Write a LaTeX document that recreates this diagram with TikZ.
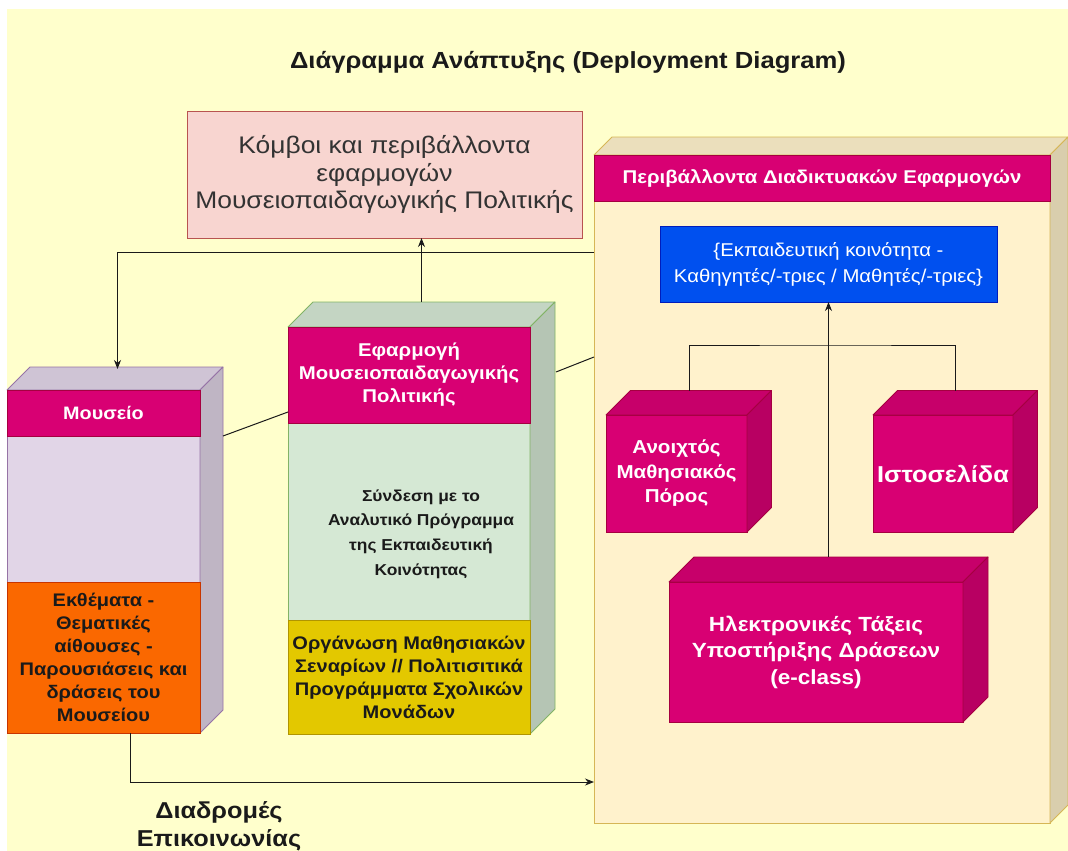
\documentclass[tikz,border=0pt]{standalone}
\usepackage{fontspec}
\setmainfont{Liberation Sans}[FakeStretch=1.1]
\usetikzlibrary{calc,arrows.meta}

\definecolor{bg}{HTML}{FFFFCC}
\definecolor{mag}{HTML}{D80073}
\definecolor{magD}{HTML}{A50040}
\definecolor{lila}{HTML}{E1D5E7}
\definecolor{lilaD}{HTML}{9673A6}
\definecolor{orng}{HTML}{FA6800}
\definecolor{orngD}{HTML}{C73500}
\definecolor{mint}{HTML}{D5E8D4}
\definecolor{mintD}{HTML}{82B366}
\definecolor{gold}{HTML}{E3C800}
\definecolor{goldD}{HTML}{B09500}
\definecolor{rose}{HTML}{F8D5D0}
\definecolor{roseD}{HTML}{B85450}
\definecolor{cream}{HTML}{FFF2CC}
\definecolor{creamD}{HTML}{D6B656}
\definecolor{blu}{HTML}{0050EF}
\definecolor{bluD}{HTML}{001DBC}
\definecolor{ink}{HTML}{1A1A1A}

% top and right faces of a 3D deployment node, drawn from its front face
\newcommand\boxsides[4]{%
  \filldraw[fill=#3!92!black, draw=#4, line width=0.8pt, line join=round]
    (#1.north west) -- ++(#2,-#2) -- ([shift={(#2,-#2)}]#1.north east) -- (#1.north east) -- cycle;
  \filldraw[fill=#3!85!black, draw=#4, line width=0.8pt, line join=round]
    (#1.north east) -- ++(#2,-#2) -- ([shift={(#2,-#2)}]#1.south east) -- (#1.south east) -- cycle;
}

\begin{document}
\begin{tikzpicture}[x=1pt,y=-1pt,
  face/.style={draw, rectangle, anchor=north west, inner sep=0pt, outer sep=0pt, line width=0.8pt, align=center},
  hdr/.style={font=\bfseries\fontsize{18.5}{23}\selectfont, text=white},
  cubetxt/.style={font=\bfseries\fontsize{18.7}{24.5}\selectfont, text=white},
  darktxt/.style={font=\bfseries\fontsize{18.2}{23}\selectfont, text=ink},
  link/.style={draw=ink, line width=1pt},
  arr/.style={link, -{Stealth[length=9pt,width=7pt]}}]

\useasboundingbox (0,0) rectangle (1068,851);
\fill[white] (0,0) rectangle (1068,851);
\fill[bg] (7,9) rectangle (1068,851);

% title
\node[font=\bfseries\fontsize{23.3}{26}\selectfont, text=ink] (title) at (568,62) {Διάγραμμα Ανάπτυξης (Deployment Diagram)};

% legend box
\node[face, fill=rose, draw=roseD, minimum width=395pt, minimum height=127pt,
      font=\fontsize{24}{27.5}\selectfont, text={rgb,255:red,51;green,51;blue,51}] (legend) at (187,111)
  {Κόμβοι και περιβάλλοντα\\εφαρμογών\\Μουσειοπαιδαγωγικής Πολιτικής};

% web applications environment
\node[face, fill=cream, draw=creamD, minimum width=456pt, minimum height=668pt] (web) at (594,155) {};
\boxsides{web}{18}{cream}{creamD}
\node[face, fill=mag, draw=magD, minimum width=456pt, minimum height=46pt, hdr] (webhdr) at (594,155)
  {Περιβάλλοντα Διαδικτυακών Εφαρμογών};
\node[face, fill=blu, draw=bluD, minimum width=337pt, minimum height=76pt, text=white,
      font=\fontsize{18.5}{26}\selectfont] (blu) at (660,226)
  {\{Εκπαιδευτική κοινότητα -\\Καθηγητές/-τριες / Μαθητές/-τριες\}};

\node[face, fill=mag, draw=magD, minimum width=141pt, minimum height=117pt, cubetxt] (oer) at (606,415)
  {Ανοιχτός\\Μαθησιακός\\Πόρος};
\boxsides{oer}{24.5}{mag}{magD}
\node[face, fill=mag, draw=magD, minimum width=140pt, minimum height=117pt,
      font=\bfseries\fontsize{23}{26}\selectfont, text=white] (ist) at (873,415)
  {Ιστοσελίδα};
\boxsides{ist}{24.5}{mag}{magD}
\node[face, fill=mag, draw=magD, minimum width=294pt, minimum height=140pt,
      font=\bfseries\fontsize{20.5}{26.5}\selectfont, text=white] (ecl) at (669,582)
  {Ηλεκτρονικές Τάξεις\\Υποστήριξης Δράσεων\\(e-class)};
\boxsides{ecl}{25}{mag}{magD}

% museum
\node[face, fill=lila, draw=lilaD, minimum width=193pt, minimum height=343pt] (mus) at (7,390) {};
\boxsides{mus}{23}{lila}{lilaD}
\node[face, fill=mag, draw=magD, minimum width=193pt, minimum height=46pt,
      font=\bfseries\fontsize{18}{23}\selectfont, text=white] (mushdr) at (7,390) {Μουσείο};
\node[face, fill=orng, draw=orngD, minimum width=193pt, minimum height=151pt, darktxt] (musex) at (7,582)
  {Εκθέματα -\\Θεματικές\\αίθουσες -\\Παρουσιάσεις και\\δράσεις του\\Μουσείου};

% museum-education application
\node[face, fill=mint, draw=mintD, minimum width=242pt, minimum height=407pt] (mid) at (288,327) {};
\boxsides{mid}{25}{mint}{mintD}
\node[face, fill=mag, draw=magD, minimum width=242pt, minimum height=96pt, hdr] (midhdr) at (288,327)
  {Εφαρμογή\\Μουσειοπαιδαγωγικής\\Πολιτικής};
\node[align=center, font=\bfseries\fontsize{15.8}{24.7}\selectfont, text=ink] (midtxt) at (421,534)
  {Σύνδεση με το\\Αναλυτικό Πρόγραμμα\\της Εκπαιδευτική\\Κοινότητας};
\node[face, fill=gold, draw=goldD, minimum width=242pt, minimum height=114pt, darktxt] (midorg) at (288,620)
  {Οργάνωση Μαθησιακών\\Σεναρίων // Πολιτισιτικά\\Προγράμματα Σχολικών\\Μονάδων};

% connector end points on the node faces
\coordinate (midtop) at ($(mid.north)+(12.5,-25)$);
\coordinate (mustop) at ($(mus.north)+(14,-21)$);
\coordinate (webL) at ($(web.north west)+(0,97)$);
\coordinate (musR) at ($(mus.north east)+(23,46)$);
\coordinate (midL) at ($(mid.north west)+(0,85)$);
\coordinate (midR) at ($(mid.north east)+(26,45)$);
\coordinate (webM) at ($(web.north west)+(0,202)$);
\coordinate (musB) at ($(mus.south west)+(123,0)$);
\coordinate (webB) at ($(web.north west)+(0,627)$);
\coordinate (ecltop) at ($(ecl.north)+(12.5,-25)$);
\coordinate (oertop) at ($(oer.north)+(12.5,-24.5)$);
\coordinate (isttop) at ($(ist.north)+(12.5,-24.5)$);
\coordinate (bus) at ($(blu.south)+(0,43)$);

% connectors
\draw[arr] (midtop) -- (midtop |- legend.south);
\draw[arr] (webL) -| (mustop);
\draw[link] (musR) -- (midL);
\draw[link] (midR) -- (webM);
\draw[arr] (musB) |- (webB);
\draw[link] (oertop) |- (bus) -| (isttop);
\draw[arr] (ecltop) -- (blu.south);

% communication paths label
\node[align=center, font=\bfseries\fontsize{23}{28}\selectfont, text=ink] (paths) at (219,826)
  {Διαδρομές\\Επικοινωνίας};
\end{tikzpicture}
\end{document}
